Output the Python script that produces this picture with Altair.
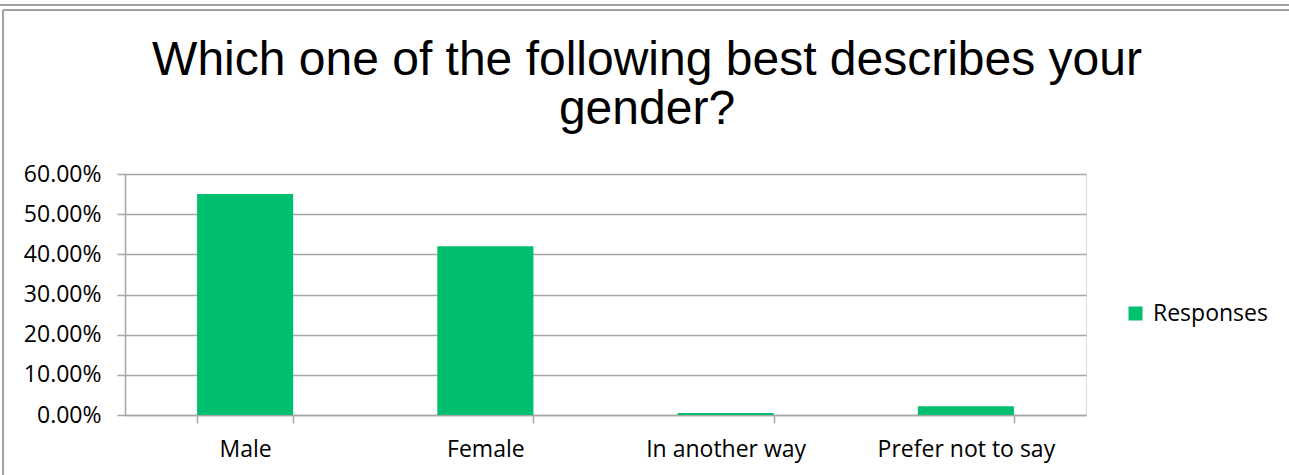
import altair as alt
import pandas as pd

categories = ["Male", "Female", "In another way", "Prefer not to say"]
values = [0.55, 0.42, 0.005, 0.022]
series = ["Responses"] * 4
y_ticks = [0, 0.1, 0.2, 0.3, 0.4, 0.5, 0.6]
title_lines = ["Which one of the following best describes your", "gender?"]

df = pd.DataFrame({"category": categories, "value": values, "series": series})
title_df = pd.DataFrame({"text": ["\n".join(title_lines)]})
one = pd.DataFrame({"k": [0]})

W, H = 961, 241
PL, PT = 125, 174
PR = 1289 - PL - W
PB = 475 - PT - H

grid = "#A6A6A6"
lab_font = "Open Sans"
lab_size = 23

bars = alt.Chart(df).mark_bar(color="#00BF6F").encode(
    x=alt.X("category:N", sort=categories,
            scale=alt.Scale(paddingInner=0.6, paddingOuter=0.3),
            axis=alt.Axis(title=None, labelAngle=0, labelFontSize=lab_size, labelFont=lab_font,
                          labelColor="#000000", labelPadding=15, tickBand="extent",
                          tickSize=8, tickColor=grid, domainColor=grid, domainWidth=1.5,
                          tickWidth=1.5, grid=False)),
    y=alt.Y("value:Q", scale=alt.Scale(domain=[0, 0.6], nice=False),
            axis=alt.Axis(title=None, values=y_ticks, format=".2%", labelFontSize=lab_size,
                          labelFont=lab_font, labelColor="#000000", labelPadding=16,
                          tickSize=8, tickColor=grid, domainColor=grid, domainWidth=1.5,
                          tickWidth=1.5, gridColor=grid, gridWidth=1.5)),
    color=alt.Color("series:N", scale=alt.Scale(range=["#00BF6F"]),
                    legend=alt.Legend(title=None, orient="none", legendX=999, legendY=128,
                                      symbolType="square", symbolSize=196,
                                      symbolStrokeWidth=0, labelFontSize=lab_size,
                                      labelFont=lab_font, labelColor="#000000",
                                      labelOffset=6)),
)

title = alt.Chart(title_df).mark_text(
    font="Liberation Sans", fontSize=48, fontWeight="normal", fill="#000000",
    align="center", baseline="alphabetic", lineBreak="\n", lineHeight=49,
).encode(x=alt.value(647 - PL), y=alt.value(75 - PT), text="text:N")

frame_color = "#A0A0A0"
frame = [
    alt.Chart(one).mark_rule(color=frame_color, strokeWidth=2).encode(
        x=alt.value(-PL), x2=alt.value(W + PR), y=alt.value(5 - PT)),
    alt.Chart(one).mark_rule(color=frame_color, strokeWidth=2).encode(
        x=alt.value(3 - PL), x2=alt.value(W + PR), y=alt.value(10 - PT)),
    alt.Chart(one).mark_rule(color=frame_color, strokeWidth=2).encode(
        x=alt.value(3 - PL), y=alt.value(10 - PT), y2=alt.value(H + PB)),
]

chart = alt.layer(bars, title, *frame).properties(
    width=W, height=H,
    autosize=alt.AutoSizeParams(type="none"),
    padding={"left": PL, "top": PT, "right": PR, "bottom": PB},
).configure_view(stroke=None).configure(background="white")

chart.save("out.html", embed_options={"renderer": "svg", "actions": False})
